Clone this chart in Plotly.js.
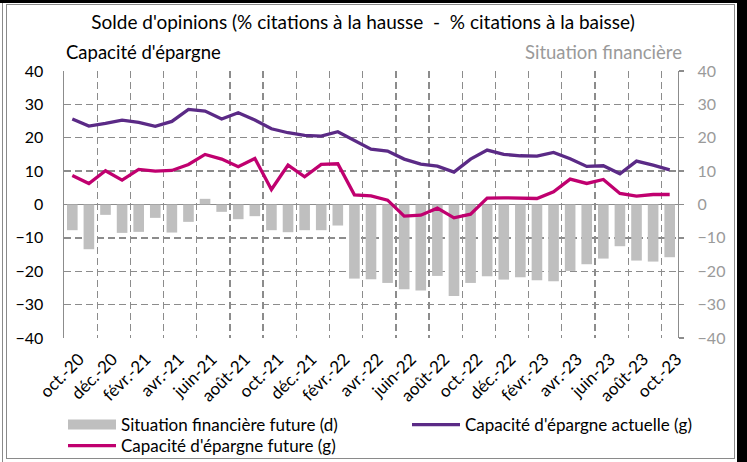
<!DOCTYPE html>
<html>
<head>
<meta charset="utf-8">
<script src="https://cdn.plot.ly/plotly-3.0.1.min.js"></script>
<style>
  html, body { margin: 0; padding: 0; background: #ffffff; }
  #wrap { position: relative; width: 747px; height: 462px; overflow: hidden; background: #ffffff; }
  #chart { position: absolute; left: 0; top: 0; width: 747px; height: 462px; }
  .frame { position: absolute; pointer-events: none; }
</style>
</head>
<body>
<div id="wrap">
  <div id="chart"></div>
  <div class="frame" style="left:0;top:0;width:747px;height:3px;background:#000;"></div>
  <div class="frame" style="left:737px;top:0;width:10px;height:462px;background:#000;"></div>
  <div class="frame" style="left:2px;top:3px;width:1px;height:459px;background:#8a8a8a;"></div>
  <div class="frame" style="left:6px;top:4px;width:727px;height:453px;border:1.5px solid #8a8a8a;"></div>
</div>
<script>
// ---- data ----
const months = [
  "oct.-20","nov.-20","déc.-20","janv.-21","févr.-21","mars-21","avr.-21","mai-21","juin-21",
  "juil.-21","août-21","sept.-21","oct.-21","nov.-21","déc.-21","janv.-22","févr.-22","mars-22",
  "avr.-22","mai-22","juin-22","juil.-22","août-22","sept.-22","oct.-22","nov.-22","déc.-22",
  "janv.-23","févr.-23","mars-23","avr.-23","mai-23","juin-23","juil.-23","août-23","sept.-23","oct.-23"
];
const situationFuture = [
  -7.7,-13.4,-3.1,-8.5,-8.2,-4.0,-8.4,-5.2,1.7,-2.2,-4.4,-3.5,-7.7,-8.3,-7.7,-7.7,-6.3,-22.2,
  -22.4,-23.5,-25.4,-25.8,-21.4,-27.4,-23.5,-21.5,-22.5,-21.8,-22.7,-23.0,-19.9,-17.9,-16.2,-12.5,-16.8,-17.1,-15.8
];
const epargneActuelle = [
  25.6,23.5,24.3,25.3,24.6,23.4,24.9,28.5,28.0,25.6,27.5,25.3,22.7,21.5,20.7,20.5,21.8,19.3,
  16.6,16.0,13.6,12.1,11.5,9.7,13.6,16.3,15.0,14.6,14.5,15.6,13.7,11.4,11.6,9.2,13.0,11.8,10.4
];
const epargneFuture = [
  8.7,6.3,10.1,7.3,10.5,10.0,10.2,12.0,15.0,13.6,11.3,13.8,4.5,11.8,8.3,12.0,12.2,2.9,
  2.6,1.3,-3.5,-3.2,-1.1,-4.0,-2.9,1.9,2.0,2.0,1.8,3.8,7.6,6.3,7.5,3.3,2.5,3.0,3.0
];
const names = {
  bars: "Situation financière future (d)",
  actuelle: "Capacité d'épargne actuelle (g)",
  future: "Capacité d'épargne future (g)"
};
const titleText = "Solde d'opinions (% citations à la hausse\u00a0 -\u00a0 % citations à la baisse)";
const leftTitle = "Capacité d'épargne";
const rightTitle = "Situation financière";

// ---- styles ----
const FONT = "Lato, 'Open Sans', sans-serif";
const GRID = "#8c8c8c";
const BARC = "#bfbfbf";
const PURPLE = "#5b2a86";
const MAGENTA = "#c0006f";

const traces = [
  { type: "bar", x: months, y: situationFuture, yaxis: "y", marker: { color: BARC },
    name: names.bars, showlegend: false, width: 0.64, hoverinfo: "y" },
  { type: "scatter", mode: "lines", x: [null], y: [null], yaxis: "y",
    line: { color: BARC, width: 12 }, name: names.bars, showlegend: true, hoverinfo: "skip",
    legend: "legend" },
  { type: "scatter", mode: "lines", x: months, y: epargneActuelle, yaxis: "y2",
    line: { color: PURPLE, width: 3.3 }, name: names.actuelle, legend: "legend3" },
  { type: "scatter", mode: "lines", x: months, y: epargneFuture, yaxis: "y2",
    line: { color: MAGENTA, width: 3.3 }, name: names.future, legend: "legend2" }
];

const W = 747, H = 462;
const L = 64, R = 747 - 678, T = 71, B = 462 - 338;
const pw = W - L - R, ph = H - T - B;

const legendBase = {
  orientation: "h", xref: "container", yref: "container",
  x: 63 / W, xanchor: "left", yanchor: "middle",
  itemwidth: 48, tracegroupgap: 0,
  font: { family: FONT, size: 17, color: "#000" }, bgcolor: "rgba(0,0,0,0)", borderwidth: 0
};

const layout = {
  width: W, height: H,
  margin: { l: L, r: R, t: T, b: B, pad: 0 },
  paper_bgcolor: "rgba(0,0,0,0)",
  plot_bgcolor: "rgba(0,0,0,0)",
  font: { family: FONT, size: 16, color: "#000" },
  showlegend: true,
  title: { text: titleText, x: 363 / W, xanchor: "center", y: 1 - 22 / H, yanchor: "middle",
           xref: "container", yref: "container", font: { family: FONT, size: 19, color: "#000" } },
  xaxis: {
    type: "category", categoryorder: "array", categoryarray: months,
    range: [-0.5, months.length - 0.5],
    tickmode: "linear", tick0: 0, dtick: 2, tickson: "boundaries",
    ticks: "", tickangle: -45, ticklabelstandoff: 7, ticklabelshift: 7,
    showline: false, zeroline: false,
    showgrid: true, gridcolor: GRID, gridwidth: 1.3, griddash: "7px,4px",
    tickfont: { family: FONT, size: 17, color: "#000" }, automargin: false, fixedrange: true
  },
  yaxis: {
    side: "right", range: [-40, 40], tickmode: "linear", tick0: 0, dtick: 10,
    showline: true, linecolor: GRID, linewidth: 1.4,
    ticks: "outside", ticklen: 5, tickcolor: GRID, tickwidth: 1.4, ticklabelstandoff: 10,
    showgrid: true, gridcolor: GRID, gridwidth: 1.3, griddash: "7px,4px",
    zeroline: true, zerolinecolor: GRID, zerolinewidth: 1.5,
    tickfont: { family: FONT, size: 16, color: "#9a9a9a" }, automargin: false, fixedrange: true
  },
  yaxis2: {
    overlaying: "y", side: "left", range: [-40, 40], tickmode: "linear", tick0: 0, dtick: 10,
    showline: true, linecolor: GRID, linewidth: 1.4, ticks: "", ticklabelstandoff: 16,
    showgrid: false, zeroline: false,
    tickfont: { family: FONT, size: 16, color: "#000" }, automargin: false, fixedrange: true
  },
  legend: Object.assign({}, legendBase, { y: 1 - 425 / H }),
  legend2: Object.assign({}, legendBase, { y: 1 - 446 / H }),
  legend3: Object.assign({}, legendBase, { x: 407 / W, y: 1 - 425 / H }),
  annotations: [
    { text: leftTitle, xref: "paper", yref: "paper", x: (64 - L) / pw, xanchor: "left",
      y: (338 - 52) / ph, yanchor: "middle", showarrow: false,
      font: { family: FONT, size: 18.5, color: "#000" } },
    { text: rightTitle, xref: "paper", yref: "paper", x: (684 - L) / pw, xanchor: "right",
      y: (338 - 52) / ph, yanchor: "middle", showarrow: false,
      font: { family: FONT, size: 18.5, color: "#9a9a9a" } }
  ],
  bargap: 0.36
};

Plotly.newPlot("chart", traces, layout, { displayModeBar: false, staticPlot: true });
</script>
</body>
</html>
